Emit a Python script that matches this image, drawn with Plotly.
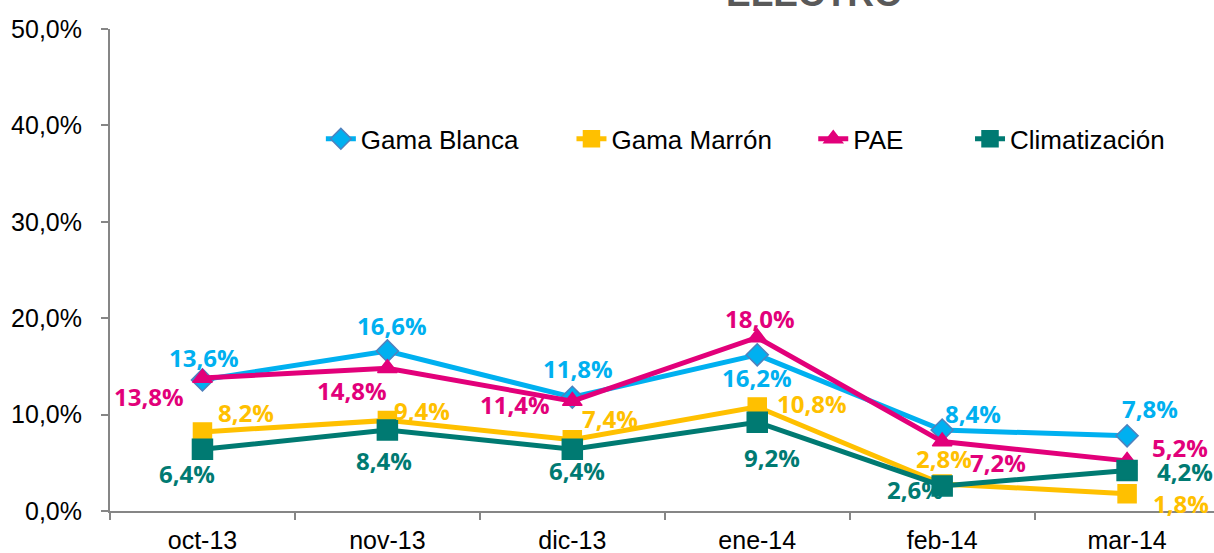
import plotly.graph_objects as go

meses = ["oct-13", "nov-13", "dic-13", "ene-14", "feb-14", "mar-14"]
gama_blanca = [13.6, 16.6, 11.8, 16.2, 8.4, 7.8]
gama_marron = [8.2, 9.4, 7.4, 10.8, 2.8, 1.8]
pae = [13.8, 14.8, 11.4, 18.0, 7.2, 5.2]
climatizacion = [6.4, 8.4, 6.4, 9.2, 2.6, 4.2]

# label offsets in px (dx right, dy up), picked by eye from the original
off_blanca = [(2, 22), (5, 25), (6, 29), (0, -23), (31, 17), (23, 27)]
off_marron = [(44, 19), (35, 10), (38, 21), (55, 3), (2, 26), (54, -10)]
off_pae = [(-53, -19), (-35, -22), (-57, -3), (3, 19), (56, -21), (53, 13)]
off_clima = [(-15, -24), (-3, -30), (5, -21), (15, -35), (-27, -4), (58, -1)]

# one legend per series so the entries can sit where the original has them
series = [
    ("Gama Blanca", gama_blanca, "#00B0F0", "diamond", 17, "#4F81BD", off_blanca, "legend", 0.191),
    ("Gama Marrón", gama_marron, "#FFC000", "square", 18, "#FFC000", off_marron, "legend2", 0.418),
    ("PAE", pae, "#E2007A", "triangle-up", 17, "#E2007A", off_pae, "legend3", 0.637),
    ("Climatización", climatizacion, "#007A72", "square", 20, "#007A72", off_clima, "legend4", 0.779),
]

fig = go.Figure()
annotations = []
legends = {}
for name, vals, color, sym, size, edge, offs, leg, lx in series:
    fig.add_trace(go.Scatter(
        x=meses, y=vals, name=name, mode="lines+markers", legend=leg,
        line=dict(color=color, width=5),
        marker=dict(symbol=sym, size=size, color=color, line=dict(color=edge, width=1.5)),
        cliponaxis=False,
    ))
    legends[leg] = dict(x=lx, y=0.772, xanchor="left", yanchor="middle",
                        font=dict(size=26), bgcolor="rgba(0,0,0,0)")
    for m, v, (dx, dy) in zip(meses, vals, offs):
        annotations.append(dict(
            x=m, y=v, xref="x", yref="y", showarrow=False,
            text=f"{v:.1f}".replace(".", ",") + "%",
            xshift=dx, yshift=dy, borderpad=0,
            font=dict(family="Open Sans", size=24, color=color, weight="bold"),
        ))

annotations.append(dict(
    x=0.638, y=1.027, xref="paper", yref="paper", yanchor="bottom", showarrow=False,
    text="<b>ELECTRO</b>",
    font=dict(family="Liberation Sans", size=37, color="#595959"),
))

fig.update_layout(
    width=1214, height=553,
    margin=dict(l=110, r=0, t=29, b=42),
    paper_bgcolor="white", plot_bgcolor="white",
    separators=",.",
    showlegend=True,
    font=dict(family="Liberation Sans", size=25, color="black"),
    annotations=annotations,
    **legends,
)
fig.update_xaxes(
    type="category", range=[-0.5, 5.47], tickson="boundaries", automargin=False,
    showline=True, linecolor="#868686", linewidth=2,
    ticks="outside", ticklen=7, tickcolor="#868686", tickwidth=2,
    showgrid=False, tickfont=dict(size=25), ticklabelstandoff=6,
)
fig.update_yaxes(
    range=[0, 50], dtick=10, tickformat=".1f", ticksuffix="%", automargin=False,
    showline=True, linecolor="#868686", linewidth=2,
    ticks="outside", ticklen=7, tickcolor="#868686", tickwidth=2,
    showgrid=False, zeroline=False, tickfont=dict(size=25), ticklabelstandoff=14,
)

# page body has a default 8px margin; drop it so the chart fills the window
fig.write_html("out.html", config={"displayModeBar": False},
               post_script="document.body.style.margin='0';")
